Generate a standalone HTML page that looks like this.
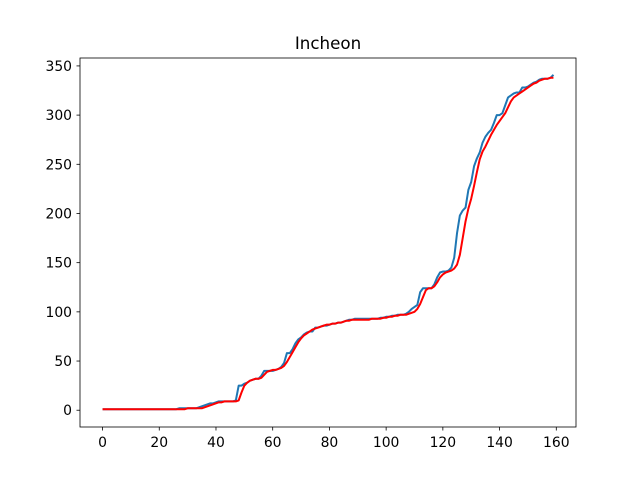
<!DOCTYPE html>
<html><head><meta charset="utf-8"><style>
body{margin:0;background:#fff}
svg text{font-family:"DejaVu Sans","Liberation Sans",sans-serif;font-size:13.9px;fill:#000}
</style></head><body>
<svg id="chart" width="640" height="480" xmlns="http://www.w3.org/2000/svg">
<rect width="640" height="480" fill="#fff"/>
<text x="328" y="49" text-anchor="middle" style="font-size:16.7px">Incheon</text>
<g id="grid"></g>
<g id="lines"></g>
<rect x="80" y="58" width="496" height="369" fill="none" stroke="#000" stroke-width="0.8"/>
</svg>
<script>
const xTicks=[0,20,40,60,80,100,120,140,160];
const yTicks=[0,50,100,150,200,250,300,350];
const blue=[1,1,1,1,1,1,1,1,1,1,
1,1,1,1,1,1,1,1,1,1,
1,1,1,1,1,1,1,2,2,2,
2,2,2,2,3,4,5,6,7,7,
8,9,9,9,9,9,9,10,25,25,
27,28,30,31,32,32,35,40,40,40,
40,41,42,44,48,58,58,62,68,72,
74,77,79,80,80,84,84,85,86,86,
87,88,88,89,89,90,91,92,92,93,
93,93,93,93,93,93,93,93,94,94,
95,95,96,96,97,97,97,98,100,103,
105,107,120,124,124,124,124,128,135,140,
141,141,142,145,155,180,198,203,206,224,
232,248,256,262,272,278,282,285,292,300,
300,302,310,318,320,322,323,323,328,328,
329,331,333,334,336,337,337,337,338,341];
const red=[1,1,1,1,1,1,1,1,1,1,
1,1,1,1,1,1,1,1,1,1,
1,1,1,1,1,1,1,1,1,1,
2,2,2,2,2,2,3,4,5,6,
7,8,8,9,9,9,9,9,10,18,
25,28,30,31,32,32,33,36,39,40,
41,41,42,43,45,49,54,59,64,69,
73,76,78,80,82,83,84,85,86,87,
87,88,88,89,89,90,91,91,92,92,
92,92,92,92,92,93,93,93,93,94,
94,95,95,96,96,97,97,97,98,99,
100,103,108,115,122,124,124,126,130,135,
138,140,141,142,144,148,158,175,192,205,
215,228,242,255,263,268,274,280,285,290,
294,298,302,308,314,318,320,322,324,326,
328,330,332,333,335,336,337,337,338,338];
const X=v=>80+(v+7.95)*496/174.9;
const Y=v=>427-(v+17.05)*369/375.1;
const ns="http://www.w3.org/2000/svg";
const g=document.getElementById('grid');
function mk(t,a,p){const e=document.createElementNS(ns,t);for(const k in a)e.setAttribute(k,a[k]);p.appendChild(e);return e;}
xTicks.forEach(v=>{
 const l=mk('line',{x1:X(v),x2:X(v),y1:427,y2:430.5,stroke:'#000','stroke-width':0.8},g);
 
 
 const t=mk('text',{x:X(v),y:447,'text-anchor':'middle'},g);t.textContent=v;
 
 
});
yTicks.forEach(v=>{
 const l=mk('line',{x1:76.5,x2:80,y1:Y(v),y2:Y(v),stroke:'#000','stroke-width':0.8},g);
 
 
 const t=mk('text',{x:72,y:Y(v)+5,'text-anchor':'end'},g);t.textContent=v;
 
 
});
const L=document.getElementById('lines');
function line(d,c,n){
 const p=mk('polyline',{points:d.map((v,i)=>X(i).toFixed(2)+','+Y(v).toFixed(2)).join(' '),fill:'none',stroke:c,'stroke-width':2,'stroke-linejoin':'round'},L);
 
 
}
line(blue,'#1f77b4','actual-series-line');
line(red,'#ff0000','smoothed-series-line');
</script>
</body></html>
